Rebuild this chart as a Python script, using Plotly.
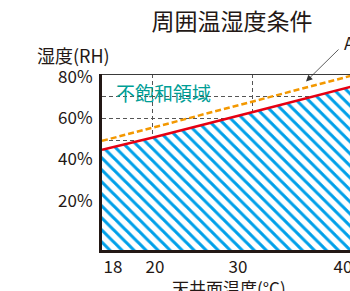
import plotly.graph_objects as go

# ---- data ----
temps = [18, 20, 30, 40]                 # 天井面温度 (°C)
red_rh = [45.6, 51.0, 62.6, 74.3]        # 結露限界 (RH %)
orange_rh = [49.6, 55.5, 67.4, 79.3]     # A line (RH %)
x_tick_text = ["18", "20", "30", "40"]
y_tick_text = ["20%", "40%", "60%", "80%"]


def axis_pos(t):
    # broken axis: 18–20 segment is stretched as drawn in the original
    return t if t >= 20 else 20 - (20 - t) * 2.5


xs = [axis_pos(t) for t in temps]
FONT = "Noto Sans CJK JP"
TXT = "#231815"

fig = go.Figure()

# hatched region under the red line
fig.add_trace(go.Scatter(
    x=xs, y=red_rh, mode="lines", line=dict(width=0, color="#00a0e9"),
    fill="tozeroy", fillcolor="white",
    fillpattern=dict(shape="\\", size=8.5, solidity=0.36,
                     fgcolor="#00a0e9", bgcolor="white", fillmode="replace"),
    hoverinfo="skip", showlegend=False))

fig.add_trace(go.Scatter(
    x=xs, y=orange_rh, mode="lines",
    line=dict(color="#f39800", width=2.5, dash="6px,3px"), showlegend=False))

fig.add_trace(go.Scatter(
    x=xs, y=red_rh, mode="lines",
    line=dict(color="#e60012", width=2.5), showlegend=False))

grid_style = dict(showgrid=True, gridcolor="#555555", gridwidth=1, griddash="4px,3px")

fig.update_xaxes(
    range=[axis_pos(18), 39.8], automargin=False,
    tickmode="array", tickvals=[16.1, 20.3, 28.6, 39.1], ticktext=x_tick_text,
    ticks="", showgrid=False, ticklabeloverflow="allow",
    minor=dict(tickmode="array", tickvals=[20, 30, 40], ticks="", **grid_style),
    showline=True, linecolor="#231815", linewidth=3,
    tickfont=dict(family=FONT, size=17, color=TXT),
    zeroline=False,
)
fig.update_yaxes(
    range=[0, 80], automargin=False,
    tickmode="array", tickvals=[22.4, 41.5, 59.8, 78.4], ticktext=y_tick_text,
    ticks="", ticklabelstandoff=3, showgrid=False,
    minor=dict(dtick=10, ticks="", **grid_style),
    showline=True, linecolor="#231815", linewidth=3,
    tickfont=dict(family=FONT, size=17, color=TXT),
    zeroline=False,
)

# top frame line
fig.add_shape(type="line", xref="paper", yref="y", x0=0, x1=1, y0=80, y1=80,
              line=dict(color="#3a3a3a", width=2.2))

fig.add_annotation(text="不飽和領域", x=21.1, y=71.4, xref="x", yref="y",
                   showarrow=False, font=dict(family=FONT, size=19, color="#009e96"))
fig.add_annotation(text="湿度(RH)", x=-0.272, y=1.108, xref="paper", yref="paper",
                   xanchor="left", yanchor="middle", showarrow=False,
                   font=dict(family=FONT, size=18, color=TXT))
fig.add_annotation(text="天井面温度(°C)", x=0.512, y=-0.212, xref="paper", yref="paper",
                   xanchor="center", yanchor="middle", showarrow=False,
                   font=dict(family=FONT, size=17, color=TXT))

# "A" label with leader and arrow
fig.add_annotation(text="A", x=0.968, y=1.18, xref="paper", yref="paper",
                   xanchor="left", yanchor="middle", showarrow=False,
                   font=dict(family=FONT, size=17, color=TXT))
fig.add_annotation(text="", x=35.4, y=76.6, xref="x", yref="y",
                   ax=38.8, ay=91.8, axref="x", ayref="y",
                   showarrow=True, arrowhead=2, arrowsize=1.6, arrowwidth=0.8,
                   arrowcolor="#333333")
fig.add_annotation(text="", x=41.0, y=91.8, xref="x", yref="y",
                   ax=38.8, ay=91.8, axref="x", ayref="y",
                   showarrow=True, arrowhead=0, arrowwidth=0.8, arrowcolor="#333333")

fig.update_layout(
    width=350, height=291,
    margin=dict(l=102, r=0, t=74, b=41),
    paper_bgcolor="white", plot_bgcolor="white",
    title=dict(text="周囲温湿度条件", x=0.663, xanchor="center",
               y=0.924, yanchor="middle", yref="container",
               font=dict(family=FONT, size=23, color=TXT)),
    showlegend=False,
)

fig.write_html("out.html", config={"displayModeBar": False},
               post_script="document.body.style.margin='0';document.body.style.overflow='hidden';")
